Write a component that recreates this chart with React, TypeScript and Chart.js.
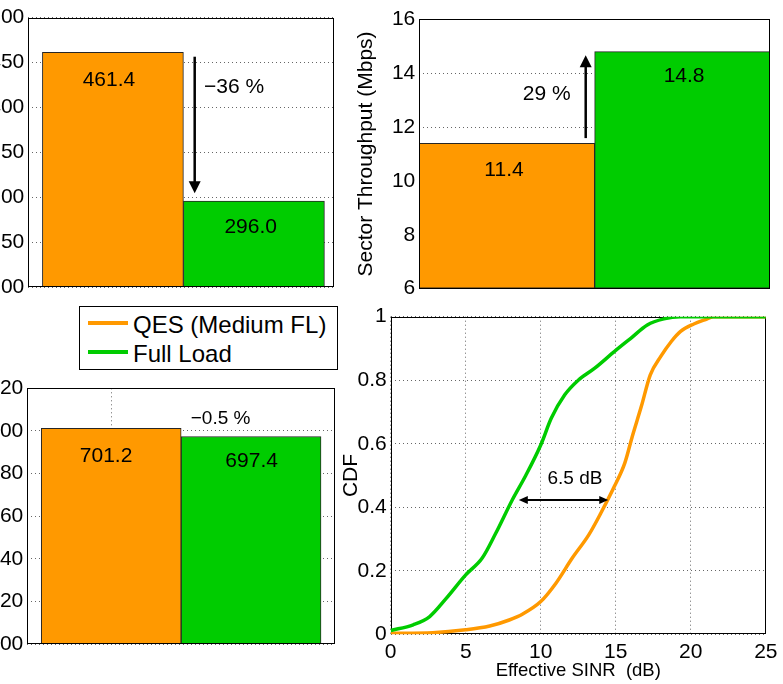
import React, { useEffect, useRef } from 'react';
import { Chart, registerables } from 'chart.js';

Chart.register(...registerables);

const FONT = '"Liberation Sans", Arial, Helvetica, sans-serif';
Chart.defaults.font.family = FONT;
Chart.defaults.color = '#000';

const ORANGE = '#FF9900';
const GREEN = '#00CC00';
const GRID = 'rgba(0,0,0,0.6)';
const NONE = 'rgba(0,0,0,0)';

// ---------------- data ----------------
const seriesNames = ['QES (Medium FL)', 'Full Load'];
const seriesColors = [ORANGE, GREEN];
const barX = [1, 2];

// top-left panel (y labels cropped in the original)
const panelAValues = [461.4, 296.0];
const panelAYTicks = [200, 250, 300, 350, 400, 450, 500];

// top-right panel: sector throughput
const panelBValues = [11.4, 14.8];
const panelBYTicks = [6, 8, 10, 12, 14, 16];
const panelBTitle = 'Sector Throughput (Mbps)';

// bottom-left panel (y labels cropped in the original)
const panelCValues = [701.2, 697.4];
const panelCYTicks = [600, 620, 640, 660, 680, 700, 720];

// bottom-right panel: CDF of effective SINR
const qesSinr = [0, 2.8, 5, 6.6, 7.9, 8.8, 10, 11, 12.1, 13.2, 14.0, 14.9, 15.6, 16.1, 16.7, 17.3, 18.0, 18.7, 19.3, 20.2, 21.1, 21.5, 25];
const qesCdf = [0.003, 0.005, 0.014, 0.026, 0.045, 0.064, 0.103, 0.16, 0.24, 0.313, 0.381, 0.465, 0.539, 0.623, 0.717, 0.817, 0.875, 0.922, 0.953, 0.977, 0.993, 1.0, 1.0];
const fullSinr = [0, 1.5, 2.6, 3.7, 5.0, 6.1, 7.0, 8.1, 9.0, 10.0, 10.7, 11.6, 12.5, 13.6, 14.9, 16.0, 17.1, 18.2, 19.3, 25];
const fullCdf = [0.012, 0.03, 0.056, 0.113, 0.187, 0.24, 0.318, 0.423, 0.5, 0.596, 0.68, 0.754, 0.8, 0.838, 0.89, 0.932, 0.974, 0.993, 1.0, 1.0];
const sinrTicks = [0, 5, 10, 15, 20, 25];
const cdfTicks = [0, 0.2, 0.4, 0.6, 0.8, 1];
const sinrTitle = 'Effective SINR  (dB)';
const cdfTitle = 'CDF';

// ---------------- plugins ----------------
function makeFrame(front: boolean) {
  const draw = (chart: any) => {
    const { ctx, chartArea: a } = chart;
    ctx.save();
    ctx.strokeStyle = '#000';
    ctx.lineWidth = 1;
    const l = Math.round(a.left) + 0.5, t = Math.round(a.top) + 0.5;
    const r = Math.round(a.right) - 0.5, b = Math.round(a.bottom) - 0.5;
    ctx.strokeRect(l, t, r - l, b - t);
    ctx.restore();
  };
  return {
    id: 'frame',
    beforeDatasetsDraw(chart: any) { if (!front) draw(chart); },
    afterDatasetsDraw(chart: any) { if (front) draw(chart); },
  };
}

function head(ctx: any, tx: number, ty: number, fx: number, fy: number, len: number, w: number) {
  const ang = Math.atan2(ty - fy, tx - fx);
  const bx = tx - len * Math.cos(ang), by = ty - len * Math.sin(ang);
  ctx.beginPath();
  ctx.moveTo(tx, ty);
  ctx.lineTo(bx + (w / 2) * Math.sin(ang), by - (w / 2) * Math.cos(ang));
  ctx.lineTo(bx - (w / 2) * Math.sin(ang), by + (w / 2) * Math.cos(ang));
  ctx.closePath();
  ctx.fill();
}

type Note = { x: number; y: number; text: string; size: number; align?: string };
type Arrow = { from: [number, number]; to: [number, number]; both?: boolean; lw: number; len: number; w: number };

function makeNotes(texts: Note[], arrows: Arrow[]) {
  return {
    id: 'notes',
    afterDatasetsDraw(chart: any) {
      const { ctx, scales } = chart;
      const xs = scales.x, ys = scales.y;
      ctx.save();
      ctx.fillStyle = '#000';
      ctx.strokeStyle = '#000';
      arrows.forEach((a) => {
        const x1 = xs.getPixelForValue(a.from[0]), y1 = ys.getPixelForValue(a.from[1]);
        const x2 = xs.getPixelForValue(a.to[0]), y2 = ys.getPixelForValue(a.to[1]);
        const ang = Math.atan2(y2 - y1, x2 - x1);
        const sx = a.both ? x1 + a.len * 0.8 * Math.cos(ang) : x1;
        const sy = a.both ? y1 + a.len * 0.8 * Math.sin(ang) : y1;
        const ex = x2 - a.len * 0.8 * Math.cos(ang), ey = y2 - a.len * 0.8 * Math.sin(ang);
        ctx.lineWidth = a.lw;
        ctx.beginPath();
        ctx.moveTo(sx, sy);
        ctx.lineTo(ex, ey);
        ctx.stroke();
        head(ctx, x2, y2, x1, y1, a.len, a.w);
        if (a.both) head(ctx, x1, y1, x2, y2, a.len, a.w);
      });
      texts.forEach((t) => {
        ctx.font = `${t.size}px ${FONT}`;
        ctx.textAlign = t.align || 'center';
        ctx.textBaseline = 'middle';
        ctx.fillText(t.text, xs.getPixelForValue(t.x), ys.getPixelForValue(t.y));
      });
      ctx.restore();
    },
  };
}

const setTicks = (vals: number[]) => (s: any) => {
  s.ticks = vals.map((v) => ({ value: v }));
};
const plainLabel = (v: any) => String(v);

// ---------------- chart configs ----------------
function barConfig(p: any) {
  return {
    type: 'bar',
    data: {
      datasets: [
        {
          label: 'bars',
          data: p.values.map((v: number, i: number) => ({ x: barX[i], y: v })),
          backgroundColor: seriesColors,
          borderColor: '#262626',
          borderWidth: 1,
          borderSkipped: false,
          base: p.yTicks[0],
          barPercentage: 1,
          categoryPercentage: 1,
          grouped: false,
        },
      ],
    },
    options: {
      animation: false,
      responsive: false,
      events: [],
      layout: { padding: p.pad },
      plugins: { legend: { display: false }, tooltip: { enabled: false } },
      scales: {
        x: {
          type: 'linear',
          offset: false,
          min: p.xRange[0],
          max: p.xRange[1],
          afterBuildTicks: setTicks(barX),
          afterFit: (s: any) => { s.height = 0; },
          ticks: { display: false },
          grid: {
            offset: false,
            drawTicks: false,
            color: (c: any) => (c.tick && p.xGrid.includes(c.tick.value) ? GRID : NONE),
          },
          border: { display: false, dash: [1, 3] },
        },
        y: {
          min: p.yTicks[0],
          max: p.yTicks[p.yTicks.length - 1],
          afterBuildTicks: setTicks(p.yTicks),
          afterFit: (s: any) => { s.width = p.yWidth; },
          ticks: { font: { size: 21 }, padding: 4, color: '#000', callback: plainLabel },
          grid: { drawTicks: false, color: GRID },
          border: { display: false, dash: [1, 3] },
          title: p.title
            ? { display: true, text: p.title, font: { size: 21 }, color: '#000', padding: 0 }
            : { display: false },
        },
      },
    },
    plugins: [makeFrame(true), makeNotes(p.texts, p.arrows)],
  };
}

const toPts = (xs: number[], ys: number[]) => xs.map((x, i) => ({ x, y: ys[i] }));

function cdfConfig() {
  return {
    type: 'line',
    data: {
      datasets: [
        {
          label: seriesNames[0],
          data: toPts(qesSinr, qesCdf),
          borderColor: ORANGE,
          borderWidth: 3.5,
          pointRadius: 0,
          cubicInterpolationMode: 'monotone',
          fill: false,
          order: 1,
        },
        {
          label: seriesNames[1],
          data: toPts(fullSinr, fullCdf),
          borderColor: GREEN,
          borderWidth: 3.5,
          pointRadius: 0,
          cubicInterpolationMode: 'monotone',
          fill: false,
          order: 0,
        },
      ],
    },
    options: {
      animation: false,
      responsive: false,
      events: [],
      layout: { padding: { left: 338.5, top: 316.7, right: 13.7, bottom: 0 } },
      plugins: { legend: { display: false }, tooltip: { enabled: false } },
      scales: {
        x: {
          type: 'linear',
          min: sinrTicks[0],
          max: sinrTicks[sinrTicks.length - 1],
          afterBuildTicks: setTicks(sinrTicks),
          afterFit: (s: any) => { s.height = 49.7; },
          ticks: { font: { size: 21 }, padding: 5.5, color: '#000', maxRotation: 0, callback: plainLabel },
          grid: { drawTicks: false, color: GRID },
          border: { display: false, dash: [1, 3] },
          title: { display: true, text: sinrTitle, font: { size: 18.5 }, color: '#000', padding: { top: 0, bottom: 2 } },
        },
        y: {
          min: cdfTicks[0],
          max: cdfTicks[cdfTicks.length - 1],
          afterBuildTicks: setTicks(cdfTicks),
          afterFit: (s: any) => { s.width = 52.2; },
          ticks: { font: { size: 21 }, padding: 4, color: '#000', callback: plainLabel },
          grid: { drawTicks: false, color: GRID },
          border: { display: false, dash: [1, 3] },
          title: { display: true, text: cdfTitle, font: { size: 21 }, color: '#000', padding: 0 },
        },
      },
    },
    plugins: [
      makeFrame(false),
      makeNotes(
        [{ x: 12.28, y: 0.489, text: '6.5 dB', size: 19 }],
        [{ from: [8.54, 0.423], to: [14.5, 0.423], both: true, lw: 2, len: 9, w: 8 }]
      ),
    ],
  };
}

const configs = [
  () =>
    barConfig({
      values: panelAValues,
      yTicks: panelAYTicks,
      xRange: [0.4, 2.57],
      xGrid: [],
      yWidth: 28.3,
      pad: { left: 0, top: 17.5, right: 448.7, bottom: 396.7 },
      texts: [
        { x: 0.972, y: 430.5, text: panelAValues[0].toFixed(1), size: 21 },
        { x: 1.977, y: 266.3, text: panelAValues[1].toFixed(1), size: 21 },
        { x: 1.646, y: 422.7, text: '\u221236 %', size: 21, align: 'left' },
      ],
      arrows: [{ from: [1.58, 456.4], to: [1.58, 304.5], lw: 2.5, len: 12, w: 12 }],
    }),
  () =>
    barConfig({
      values: panelBValues,
      yTicks: panelBYTicks,
      xRange: [0.5, 2.5],
      xGrid: [],
      yWidth: 65.8,
      title: panelBTitle,
      pad: { left: 353.5, top: 19.3, right: 13, bottom: 395.3 },
      texts: [
        { x: 0.983, y: 10.41, text: panelBValues[0].toFixed(1), size: 21 },
        { x: 2.01, y: 13.87, text: panelBValues[1].toFixed(1), size: 21 },
        { x: 1.227, y: 13.22, text: '29 %', size: 21 },
      ],
      arrows: [{ from: [1.449, 11.59], to: [1.449, 14.67], lw: 2.5, len: 12, w: 12 }],
    }),
  () =>
    barConfig({
      values: panelCValues,
      yTicks: panelCYTicks,
      xRange: [0.4, 2.6],
      xGrid: [1],
      yWidth: 27.3,
      pad: { left: 0, top: 388.3, right: 448, bottom: 39.7 },
      texts: [
        { x: 0.963, y: 688.4, text: panelCValues[0].toFixed(1), size: 21 },
        { x: 2.004, y: 685.9, text: panelCValues[1].toFixed(1), size: 21 },
        { x: 1.782, y: 705.95, text: '\u22120.5 %', size: 19 },
      ],
      arrows: [],
    }),
  cdfConfig,
];

function Legend() {
  return (
    <div
      style={{
        position: 'absolute',
        left: 79,
        top: 306,
        width: 259,
        height: 64,
        boxSizing: 'border-box',
        border: '1px solid #000',
        background: '#fff',
        fontFamily: FONT,
        color: '#000',
      }}
    >
      {seriesNames.map((name, i) => (
        <React.Fragment key={name}>
          <div
            style={{
              position: 'absolute',
              left: 8,
              top: 14.3 + i * 29,
              width: 40,
              height: 4,
              background: seriesColors[i],
            }}
          />
          <div
            style={{
              position: 'absolute',
              left: 53,
              top: 2.9 + i * 29,
              fontSize: 24,
              lineHeight: '29px',
              whiteSpace: 'nowrap',
            }}
          >
            {name}
          </div>
        </React.Fragment>
      ))}
    </div>
  );
}

export default function App() {
  const r0 = useRef<HTMLCanvasElement>(null);
  const r1 = useRef<HTMLCanvasElement>(null);
  const r2 = useRef<HTMLCanvasElement>(null);
  const r3 = useRef<HTMLCanvasElement>(null);
  const refs = [r0, r1, r2, r3];

  useEffect(() => {
    const charts = refs.map((r, i) => new Chart(r.current as any, configs[i]() as any));
    return () => charts.forEach((c) => c.destroy());
  }, []);

  return (
    <div
      style={{
        position: 'absolute',
        left: 0,
        top: 0,
        width: 783,
        height: 684,
        overflow: 'hidden',
        background: '#fff',
      }}
    >
      {refs.map((r, i) => (
        <canvas
          key={i}
          ref={r}
          width={783}
          height={684}
          style={{ position: 'absolute', left: 0, top: 0, width: 783, height: 684 }}
        />
      ))}
      <Legend />
    </div>
  );
}
